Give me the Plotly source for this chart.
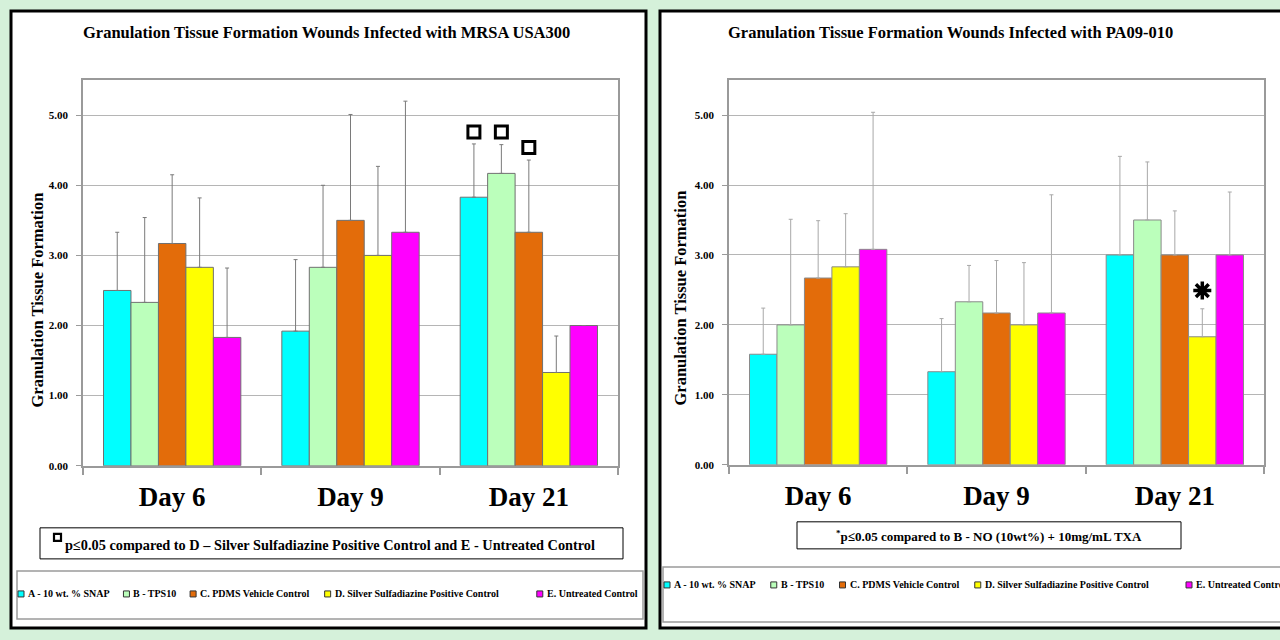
import plotly.graph_objects as go

# ---------------- data ----------------
categories = ["Day 6", "Day 9", "Day 21"]
series_names = [
    "A - 10 wt. % SNAP",
    "B - TPS10",
    "C. PDMS Vehicle Control",
    "D. Silver Sulfadiazine Positive Control",
    "E. Untreated Control",
]
series_colors = ["#00ffff", "#bbffbb", "#e36c0a", "#ffff00", "#ff00ff"]

# MRSA USA300 (left panel): means and upper SD
mrsa_a = [2.50, 1.92, 3.83]
mrsa_b = [2.33, 2.83, 4.17]
mrsa_c = [3.17, 3.50, 3.33]
mrsa_d = [2.83, 3.00, 1.33]
mrsa_e = [1.83, 3.33, 2.00]
mrsa_a_err = [0.83, 1.02, 0.76]
mrsa_b_err = [1.21, 1.17, 0.41]
mrsa_c_err = [0.98, 1.51, 1.03]
mrsa_d_err = [0.99, 1.27, 0.52]
mrsa_e_err = [0.99, 1.87, 0.00]

# PA09-010 (right panel)
pa_a = [1.58, 1.33, 3.00]
pa_b = [2.00, 2.33, 3.50]
pa_c = [2.67, 2.17, 3.00]
pa_d = [2.83, 2.00, 1.83]
pa_e = [3.08, 2.17, 3.00]
pa_a_err = [0.66, 0.76, 1.41]
pa_b_err = [1.51, 0.52, 0.83]
pa_c_err = [0.82, 0.75, 0.63]
pa_d_err = [0.76, 0.89, 0.40]
pa_e_err = [1.96, 1.69, 0.90]

# significance markers: (series index, category index, y value)
mrsa_sig_series = [0, 1, 2]
mrsa_sig_cat = [2, 2, 2]
mrsa_sig_y = [4.76, 4.76, 4.54]
pa_sig_series = [3]
pa_sig_cat = [2]
pa_sig_y = [2.49]

y_ticks = [0, 1, 2, 3, 4, 5]

# ---------------- layout helpers ----------------
W, H = 1280, 640
H_EFF = 633  # effective drawing height observed in the viewer
def px(x):
    return x / W
def py(y):
    return 1 - y / H_EFF

SERIF = "Liberation Serif, Times New Roman, serif"
BARGAP = 0.23
n_series = len(series_names)
bar_w = (1 - BARGAP) / n_series
def offset(j):
    return -(1 - BARGAP) / 2 + bar_w * (j + 0.5)

fig = go.Figure()

panels = [
    dict(means=[mrsa_a, mrsa_b, mrsa_c, mrsa_d, mrsa_e],
         errs=[mrsa_a_err, mrsa_b_err, mrsa_c_err, mrsa_d_err, mrsa_e_err],
         xa="x", ya="y", errcolor="#7a7a7a", outline="#707070"),
    dict(means=[pa_a, pa_b, pa_c, pa_d, pa_e],
         errs=[pa_a_err, pa_b_err, pa_c_err, pa_d_err, pa_e_err],
         xa="x2", ya="y2", errcolor="#a8a8a8", outline="#8a8a8a"),
]

xpos = list(range(len(categories)))
for p in panels:
    for j in range(n_series):
        fig.add_trace(go.Bar(
            x=xpos, y=p["means"][j], name=series_names[j],
            marker=dict(color=series_colors[j], line=dict(color=p["outline"], width=1)),
            error_y=dict(type="data", symmetric=False, array=p["errs"][j],
                         arrayminus=[0] * len(categories), color=p["errcolor"],
                         thickness=1, width=2),
            xaxis=p["xa"], yaxis=p["ya"], showlegend=False,
        ))

# significance markers
fig.add_trace(go.Scatter(
    x=[c + offset(s) for s, c in zip(mrsa_sig_series, mrsa_sig_cat)], y=mrsa_sig_y,
    mode="markers", marker=dict(symbol="square-open", size=12, color="black",
                                line=dict(width=3, color="black")),
    xaxis="x", yaxis="y", showlegend=False))
fig.add_trace(go.Scatter(
    x=[c + offset(s) for s, c in zip(pa_sig_series, pa_sig_cat)], y=pa_sig_y,
    mode="markers", marker=dict(symbol="asterisk-open", size=15, color="black",
                                line=dict(width=3.5, color="black")),
    xaxis="x2", yaxis="y2", showlegend=False))

shapes = []
annotations = []

def note(text, x, y, size, xanchor="center", angle=0):
    annotations.append(dict(text=text, x=px(x), y=py(y), xref="paper", yref="paper",
                            xanchor=xanchor, yanchor="middle", showarrow=False,
                            textangle=angle,
                            font=dict(family=SERIF, size=size, color="black")))

def box(x0, x1, y0, y1, color, width, fill=None, layer="above"):
    d = dict(type="rect", xref="paper", yref="paper", layer=layer,
             x0=px(x0), x1=px(x1), y0=py(y1), y1=py(y0),
             line=dict(color=color, width=width))
    if fill:
        d["fillcolor"] = fill
    shapes.append(d)

# panel frames (drawn below everything)
box(11, 646, 11, 627, "black", 3, fill="white", layer="below")
box(660, 1290, 11, 627, "black", 3, fill="white", layer="below")

# titles
note("<b>Granulation Tissue Formation Wounds Infected with MRSA USA300</b>", 326, 32, 16.5)
note("<b>Granulation Tissue Formation Wounds Infected with PA09-010</b>", 950, 32, 16.5)

# y-axis titles
note("<b>Granulation Tissue Formation</b>", 37, 300, 16.5, angle=-90)
note("<b>Granulation Tissue Formation</b>", 680, 298, 16.5, angle=-90)

# footnote boxes
box(40, 623, 527, 558, "black", 1)
box(54, 61, 533, 540, "black", 2.2)
note("<b>p≤0.05 compared to D – Silver Sulfadiazine Positive Control and E - Untreated Control</b>",
     63, 544, 14.3, xanchor="left")
box(797, 1181, 521, 548, "black", 1)
note("<b><sup>*</sup>p≤0.05 compared to B - NO (10wt%) + 10mg/mL TXA</b>", 989, 535, 13)

# legend boxes (manual legends)
box(17, 643, 570, 618, "#9a9a9a", 1.5)
box(663, 1295, 566, 621, "#9a9a9a", 1.5)

def legend_row(x_start, ycen, gap, size, char_w):
    x = x_start
    for j in range(n_series):
        box(x, x + 6, ycen - 3, ycen + 3, "#333333", 1, fill=series_colors[j])
        note("<b>" + series_names[j] + "</b>", x + 8, ycen, size, xanchor="left")
        x += 9 + len(series_names[j]) * char_w + gap

legend_row(18, 593, 14, 10, 4.85)
legend_row(664, 584, 17, 10, 4.75)

axis_common_x = dict(
    range=[-0.5, 2.5], tickvals=xpos, ticktext=categories, ticks="",
    tickfont=dict(family=SERIF, size=27, color="black", weight="bold"),
    ticklabelstandoff=6,
    showline=True, linecolor="#9a9a9a", linewidth=1.5, mirror=True,
    showgrid=False, zeroline=False,
    minor=dict(tickvals=[-0.5, 0.5, 1.5, 2.5], ticks="outside", ticklen=8,
               tickcolor="#9a9a9a", tickwidth=1.5, showgrid=False),
)
axis_common_y = dict(
    range=[0, 5.5], tickvals=y_ticks, tickformat=".2f",
    ticks="outside", ticklen=5, tickcolor="#9a9a9a",
    tickfont=dict(family=SERIF, size=11, color="black", weight="bold"),
    ticklabelstandoff=6,
    showline=True, linecolor="#9a9a9a", linewidth=1.5, mirror=True,
    showgrid=True, gridcolor="#b5b5b5", gridwidth=1, zeroline=False,
)

fig.update_layout(
    width=W, height=H, autosize=False,
    margin=dict(l=0, r=0, t=0, b=0),
    paper_bgcolor="#d5f1da",
    plot_bgcolor="white",
    barmode="group", bargap=BARGAP, bargroupgap=0,
    showlegend=False,
    xaxis=dict(domain=[px(83), px(618)], anchor="y", **axis_common_x),
    yaxis=dict(domain=[py(465), py(80)], anchor="x", **axis_common_y),
    xaxis2=dict(domain=[px(729), px(1264)], anchor="y2", **axis_common_x),
    yaxis2=dict(domain=[py(464), py(80)], anchor="x2", **axis_common_y),
    shapes=shapes,
    annotations=annotations,
)

fig.write_html("out.html", config={"displayModeBar": False, "responsive": False},
               post_script="document.body.style.margin='0';document.body.style.overflow='hidden';")
